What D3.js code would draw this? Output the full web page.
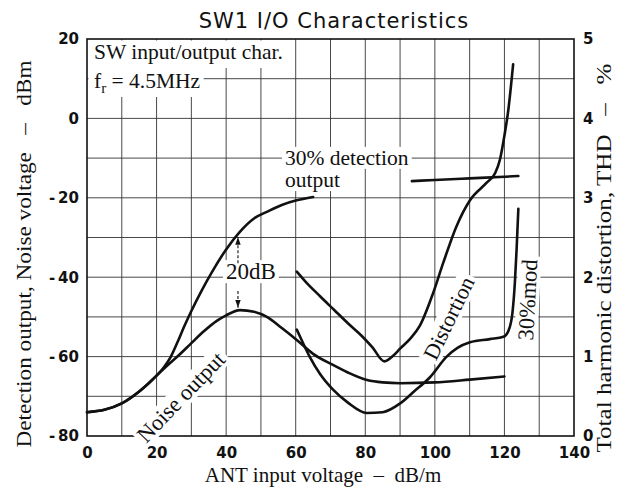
<!DOCTYPE html>
<html>
<head>
<meta charset="utf-8">
<script src="https://cdn.jsdelivr.net/npm/d3@7"></script>
<style>
  body { margin: 0; background: #fff; }
  svg { display: block; }
  .serif { font-family: "Liberation Serif", "Times New Roman", serif; fill: #111; }
  .tick text { font-family: "DejaVu Sans", sans-serif; font-weight: bold; font-size: 15px; fill: #111; }
</style>
</head>
<body>
<svg id="chart" width="618" height="489"></svg>
<script>
// tick values
const xTicks = [0, 20, 40, 60, 80, 100, 120, 140];
const yLeftTicks = [20, 0, -20, -40, -60, -80];
const yRightTicks = [5, 4, 3, 2, 1, 0];

// 30% detection output, dBm (drawn in two pieces, the label sits in the gap)
const detectionLow = [[0,-74],[5,-73.4],[10,-71.8],[15,-68.8],[20,-64.8],[22,-62.8],[24,-60.2],[26,-56.4],
  [28,-52.3],[30,-48.5],[33,-43.3],[36,-38.6],[40,-33],[44,-28.5],[48,-25.2],[52,-23.4],[56,-21.8],[60,-20.7],[65,-19.8]];
const detectionHigh = [[93.4,-15.8],[100,-15.5],[110,-15.1],[120,-14.7],[124,-14.5]];

// noise output, dBm
const noise = [[0,-74],[5,-73.4],[10,-71.8],[15,-68.8],[20,-64.8],[23,-62.3],[26.7,-59.4],[30,-56.6],[33.5,-53.7],
  [37.3,-51],[40,-49.6],[44,-48.3],[48,-48.7],[51.7,-50],[56,-52.8],[60.3,-55.8],[65,-59.3],[70.7,-62.1],
  [75,-64],[80.5,-65.9],[85,-66.5],[90,-66.7],[100,-66.5],[110,-65.8],[120,-65]];

// distortion curves, THD %
const distortion = [[60.3,2.07],[63,1.935],[67,1.76],[71,1.59],[75,1.42],[79,1.26],[82,1.12],[85.5,0.94],
  [88,1.01],[90,1.1],[93,1.23],[95.7,1.39],[99.5,1.8],[102.4,2.18],[106.2,2.64],[110.1,2.97],[114.9,3.19],
  [117.3,3.31],[118.7,3.48],[120.1,3.81],[121.1,4.1],[122.5,4.68]];
const distortion30 = [[60.3,1.34],[62,1.18],[64,1.0],[67,0.78],[70.8,0.58],[75,0.42],[80.4,0.29],[85,0.3],
  [90,0.41],[94,0.56],[98.6,0.74],[103.4,1.0],[106.5,1.11],[110.1,1.18],[115.8,1.22],[119.7,1.25],
  [121.2,1.33],[122.3,1.55],[123,1.93],[123.5,2.35],[124,2.86]];

// 20dB marker
const gapX = 43.4, gapTop = -29.4, gapBottom = -48.2;

const svg = d3.select("#chart");
const x = d3.scaleLinear().domain([0, 140]).range([87, 574]);
const yL = d3.scaleLinear().domain([-80, 20]).range([436, 39]);
const yR = d3.scaleLinear().domain([0, 5]).range([436, 39]);

// title
svg.append("text")
  .attr("x", 334).attr("y", 28)
  .attr("text-anchor", "middle")
  .style("font-family", "'DejaVu Sans', sans-serif")
  .style("font-size", "21px")
  .style("letter-spacing", "1px")
  .attr("fill", "#111")
  .text("SW1 I/O Characteristics");

// grid
const grid = svg.append("g").attr("stroke", "#333").attr("stroke-width", 0.9);
grid.selectAll(".vg").data(d3.range(10, 140, 10)).enter().append("line")
  .attr("x1", d => x(d)).attr("x2", d => x(d))
  .attr("y1", yL(20)).attr("y2", yL(-80));
grid.selectAll(".hg").data(d3.range(-70, 20, 10)).enter().append("line")
  .attr("x1", x(0)).attr("x2", x(140))
  .attr("y1", d => yL(d)).attr("y2", d => yL(d));

svg.append("rect")
  .attr("x", x(0)).attr("y", yL(20))
  .attr("width", x(140) - x(0)).attr("height", yL(-80) - yL(20))
  .attr("fill", "none").attr("stroke", "#111").attr("stroke-width", 1.6);

// axes
const fmt = d => d < 0 ? "-\u2009" + (-d) : d;
svg.append("g").attr("transform", `translate(${x(0)},0)`)
  .call(d3.axisLeft(yL).tickValues(yLeftTicks).tickSize(0).tickPadding(8).tickFormat(fmt))
  .call(g => g.select(".domain").remove());
svg.append("g").attr("transform", `translate(0,${yL(-80)})`)
  .call(d3.axisBottom(x).tickValues(xTicks).tickSize(0).tickPadding(11))
  .call(g => g.select(".domain").remove());
svg.append("g").attr("transform", `translate(${x(140)},0)`)
  .call(d3.axisRight(yR).tickValues(yRightTicks).tickSize(0).tickPadding(9).tickFormat(d3.format("d")))
  .call(g => g.select(".domain").remove());

// axis titles
svg.append("text").attr("class", "serif")
  .attr("x", 323).attr("y", 482)
  .attr("text-anchor", "middle")
  .style("font-size", "21px").style("white-space", "pre")
  .text("ANT input voltage  \u2013  dB/m");
svg.append("text").attr("class", "serif")
  .attr("transform", "translate(31,254) rotate(-90)")
  .attr("text-anchor", "middle")
  .style("font-size", "21px").style("white-space", "pre")
  .attr("textLength", 387).attr("lengthAdjust", "spacingAndGlyphs")
  .text("Detection output, Noise voltage   \u2013   dBm");
svg.append("text").attr("class", "serif")
  .attr("transform", "translate(611,258) rotate(-90)")
  .attr("text-anchor", "middle")
  .style("font-size", "21px").style("white-space", "pre")
  .attr("textLength", 389).attr("lengthAdjust", "spacingAndGlyphs")
  .text("Total harmonic distortion, THD   \u2013   %");

// white boxes behind in-plot labels, then curves, then label text
const boxes = svg.append("g").attr("fill", "#fff");
const curves = svg.append("g").attr("fill", "none").attr("stroke", "#111")
  .attr("stroke-width", 2.6).attr("stroke-linecap", "round");
const labels = svg.append("g");

const lineL = d3.line().x(d => x(d[0])).y(d => yL(d[1])).curve(d3.curveMonotoneX);
const lineR = d3.line().x(d => x(d[0])).y(d => yR(d[1])).curve(d3.curveMonotoneX);
[detectionLow, detectionHigh, noise].forEach(s => curves.append("path").attr("d", lineL(s)));
[distortion, distortion30].forEach(s => curves.append("path").attr("d", lineR(s)));

function label(txt, dx, dy, angle, opts) {
  const g = labels.append("g")
    .attr("transform", `translate(${x(dx)},${yL(dy)}) rotate(${angle})`);
  const t = g.append("text").attr("class", "serif")
    .attr("text-anchor", opts.anchor || "middle")
    .attr("dominant-baseline", opts.base || "central")
    .style("font-size", (opts.size || 22) + "px")
    .text(txt);
  if (opts.box) {
    const b = t.node().getBBox();
    boxes.append("rect")
      .attr("transform", `translate(${x(dx)},${yL(dy)}) rotate(${angle})`)
      .attr("x", b.x - 3).attr("y", b.y + 1).attr("width", b.width + 6).attr("height", b.height - 2);
  }
  return t;
}

const head1 = label("SW input/output char.", 2, 15, 0, { anchor: "start", base: "alphabetic", size: 21.5 });
const fr = label("", 2, 7.7, 0, { anchor: "start", base: "alphabetic", size: 21.5 });
fr.append("tspan").text("f");
fr.append("tspan").attr("dy", 5).style("font-size", "15px").text("r");
fr.append("tspan").attr("dy", -5).style("white-space", "pre").text(" = 4.5MHz");
// the header block blanks the grid from the frame to the end of each line
const b1 = head1.node().getBBox(), b2 = fr.node().getBBox();
boxes.append("rect").attr("x", x(0) + 1.5).attr("y", yL(20) + 1.5)
  .attr("width", b1.width + 9).attr("height", 27.5);
boxes.append("rect").attr("x", x(0) + 1.5).attr("y", yL(20) + 28.5)
  .attr("width", b2.width + 9).attr("height", 29.5);

label("30% detection", 56.9, -11.7, 0, { anchor: "start", base: "alphabetic", size: 21.5, box: true });
label("output", 56.9, -17.3, 0, { anchor: "start", base: "alphabetic", size: 21.5, box: true });
label("20dB", 47.1, -38.6, 0, { size: 23, box: true });
label("Noise output", 27.0, -70.2, -46, { size: 22.5, box: true });
label("Distortion", 104, -50.3, -64, { size: 22, box: true });
label("30%mod", 126.7, -45.7, -87, { size: 22.5, box: true });

// 20dB arrows
const defs = svg.append("defs");
defs.append("marker").attr("id", "ah").attr("viewBox", "0 0 10 10")
  .attr("refX", 10).attr("refY", 5).attr("markerWidth", 7).attr("markerHeight", 7)
  .attr("orient", "auto-start-reverse")
  .append("path").attr("d", "M0,1.5 L10,5 L0,8.5 Z").attr("fill", "#111");
const arrows = svg.append("g").attr("stroke", "#111").attr("stroke-width", 1.1)
  .attr("stroke-dasharray", "3,2");
arrows.append("line").attr("x1", x(gapX)).attr("x2", x(gapX))
  .attr("y1", yL(-36.5)).attr("y2", yL(gapTop) + 2).attr("marker-end", "url(#ah)");
arrows.append("line").attr("x1", x(gapX)).attr("x2", x(gapX))
  .attr("y1", yL(-43.5)).attr("y2", yL(gapBottom) - 2).attr("marker-end", "url(#ah)");
</script>
</body>
</html>
